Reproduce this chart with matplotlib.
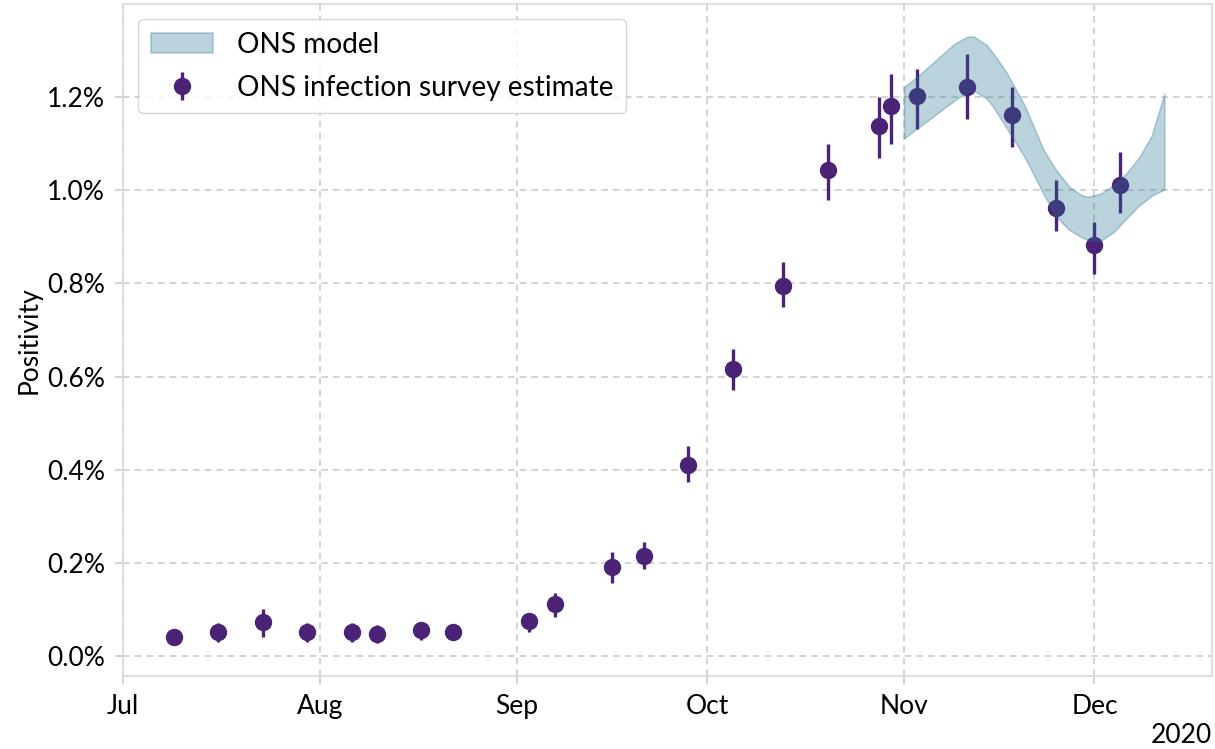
import numpy as np
import pandas as pd
import matplotlib
matplotlib.use("Agg")
import matplotlib.pyplot as plt
import matplotlib.dates as mdates
from matplotlib.ticker import PercentFormatter

plt.rcParams['font.family'] = ['Lato', 'DejaVu Sans']

# ONS infection survey estimates (positivity in %)
survey_dates = pd.to_datetime([
    "2020-07-09", "2020-07-16", "2020-07-23", "2020-07-30", "2020-08-06",
    "2020-08-10", "2020-08-17", "2020-08-22", "2020-09-03", "2020-09-07",
    "2020-09-16", "2020-09-21", "2020-09-28", "2020-10-05", "2020-10-13",
    "2020-10-20", "2020-10-28", "2020-10-30", "2020-11-03", "2020-11-11",
    "2020-11-18", "2020-11-25", "2020-12-01", "2020-12-05",
])
survey_mid = [0.041, 0.052, 0.072, 0.052, 0.052, 0.047, 0.056, 0.052, 0.074, 0.112,
              0.190, 0.215, 0.410, 0.617, 0.795, 1.043, 1.137, 1.180, 1.202, 1.222,
              1.161, 0.962, 0.882, 1.011]
survey_low = [0.025, 0.031, 0.041, 0.031, 0.031, 0.027, 0.035, 0.040, 0.051, 0.084,
              0.157, 0.187, 0.373, 0.570, 0.750, 0.980, 1.070, 1.100, 1.132, 1.152,
              1.093, 0.913, 0.820, 0.952]
survey_high = [0.052, 0.071, 0.100, 0.071, 0.071, 0.066, 0.073, 0.062, 0.092, 0.135,
               0.223, 0.245, 0.450, 0.660, 0.845, 1.100, 1.200, 1.250, 1.261, 1.293,
               1.222, 1.021, 0.932, 1.082]

# ONS model band
model_dates = pd.to_datetime([
    "2020-11-01", "2020-11-03", "2020-11-05", "2020-11-07", "2020-11-09",
    "2020-11-11", "2020-11-12", "2020-11-14", "2020-11-15", "2020-11-17",
    "2020-11-18", "2020-11-20", "2020-11-21", "2020-11-23", "2020-11-25",
    "2020-11-27", "2020-11-29", "2020-11-30", "2020-12-02", "2020-12-04",
    "2020-12-06", "2020-12-08", "2020-12-10", "2020-12-12",
])
model_low = [1.111, 1.132, 1.152, 1.173, 1.193, 1.211, 1.214, 1.197, 1.180, 1.137,
             1.115, 1.071, 1.045, 0.991, 0.943, 0.915, 0.899, 0.893, 0.892, 0.910,
             0.939, 0.967, 0.988, 1.002]
model_high = [1.222, 1.243, 1.267, 1.291, 1.315, 1.330, 1.330, 1.312, 1.295, 1.256,
              1.232, 1.182, 1.150, 1.086, 1.043, 1.008, 0.989, 0.986, 0.993, 1.011,
              1.036, 1.070, 1.117, 1.207]

purple = '#4a2377'
teal = '#1f708b'

fig = plt.figure(figsize=(12.15, 7.49), dpi=100)
ax = fig.add_axes([0.1012, 0.0975, 0.8963, 0.8972])

mid = np.array(survey_mid)
yerr = [mid - np.array(survey_low), np.array(survey_high) - mid]
eb = ax.errorbar(survey_dates, mid, yerr=yerr, fmt='o', color=purple,
                 markersize=11.5, elinewidth=2.4, capsize=0, zorder=2,
                 label='ONS infection survey estimate')
band = ax.fill_between(model_dates, model_low, model_high, color=teal,
                       alpha=0.3, linewidth=1.2, zorder=3, label='ONS model')

ax.set_xlim(pd.Timestamp("2020-07-01"), pd.Timestamp("2020-07-01") + pd.Timedelta(days=171.5))
ax.set_ylim(-0.043, 1.40)
ax.set_yticks(np.arange(0, 1.21, 0.2))
ax.yaxis.set_major_formatter(PercentFormatter(xmax=100, decimals=1))

loc = mdates.MonthLocator()
ax.xaxis.set_major_locator(loc)
ax.xaxis.set_major_formatter(mdates.ConciseDateFormatter(loc))

ax.grid(True, linestyle=(0, (4, 3)), color='#cccccc', linewidth=1.2)
ax.set_axisbelow(True)
for s in ax.spines.values():
    s.set_color('#d9d9d9')
    s.set_linewidth(1.2)
ax.tick_params(colors='#cccccc', labelcolor='black', labelsize=19, length=6,
               width=1.2, pad=7)
ax.xaxis.get_offset_text().set_fontsize(19)
ax.set_ylabel('Positivity', fontsize=19, labelpad=4)

leg = ax.legend([band, eb], ['ONS model', 'ONS infection survey estimate'],
                loc='upper left', fontsize=20.2, frameon=True, handlelength=2.2,
                borderaxespad=0.55, handletextpad=0.85, labelspacing=0.6,
                borderpad=0.45)
leg.get_frame().set_edgecolor('#cccccc')

fig.savefig('out.png', dpi=100)
